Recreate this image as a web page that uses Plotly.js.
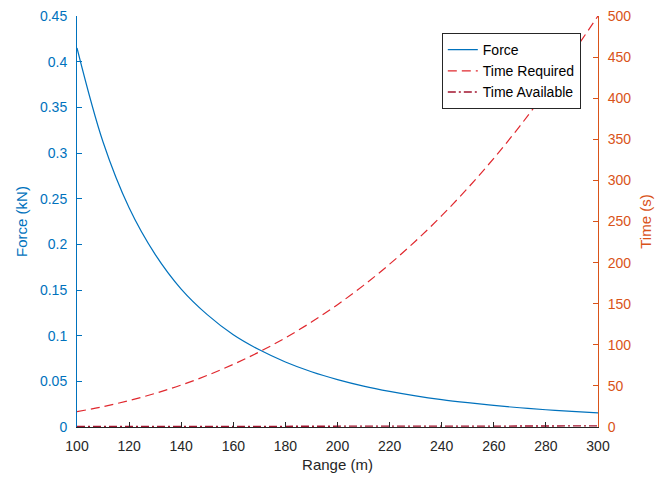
<!DOCTYPE html>
<html>
<head>
<meta charset="utf-8">
<script src="https://cdn.plot.ly/plotly-3.0.1.min.js"></script>
<style>html,body{margin:0;padding:0;background:#fff;}#chart{width:670px;height:480px;}</style>
</head>
<body>
<div id="chart"></div>
<script>
var range = [100,110,120,130,140,150,160,170,180,190,200,210,220,230,240,250,260,270,280,290,300];
var force = [0.415,0.312,0.240,0.189,0.151,0.123,0.101,0.0845,0.0712,0.0605,0.0519,0.0448,0.0390,0.0341,0.0300,0.0266,0.0236,0.0211,0.0189,0.0170,0.0154];
var timeRequired = [18.6,24.8,32.1,40.9,51.0,62.8,76.2,91.4,108.5,127.6,148.8,172.3,198.1,226.3,257.1,290.6,326.9,366.1,408.3,453.6,500];
var timeAvailable = [0.6,0.6,0.7,0.7,0.7,0.8,0.8,0.8,0.9,0.9,0.9,1.0,1.0,1.0,1.1,1.1,1.1,1.2,1.2,1.2,1.3];
var xTicks = [100,120,140,160,180,200,220,240,260,280,300];
var yLeftTicks = [0,0.05,0.1,0.15,0.2,0.25,0.3,0.35,0.4,0.45];
var yLeftLabels = ['0','0.05','0.1','0.15','0.2','0.25','0.3','0.35','0.4','0.45'];
var yRightTicks = [0,50,100,150,200,250,300,350,400,450,500];

var blue = '#0072BD', orange = '#D95319';
var font = 'Liberation Sans, Arial, Helvetica, sans-serif';

var traces = [
  {x: range, y: force, name: 'Force', type: 'scatter', mode: 'lines', line: {color: blue, width: 1.2, shape: 'spline'}, yaxis: 'y'},
  {x: range, y: timeRequired, name: 'Time Required', type: 'scatter', mode: 'lines', line: {color: '#e0282e', width: 1.2, dash: '9px,5px', shape: 'spline'}, yaxis: 'y2'},
  {x: range, y: timeAvailable, name: 'Time Available', type: 'scatter', mode: 'lines', line: {color: '#a2142f', width: 1.3, dash: '8px,3px,2px,3px'}, yaxis: 'y2'}
];

var layout = {
  width: 670, height: 480,
  margin: {l: 77, r: 72, t: 16, b: 53},
  paper_bgcolor: '#fff', plot_bgcolor: '#fff',
  font: {family: font, size: 13, color: '#262626'},
  showlegend: true,
  legend: {x: 0.967, y: 0.9586, xanchor: 'right', yanchor: 'top', bgcolor: '#fff', bordercolor: '#262626', borderwidth: 1, font: {size: 14, color: '#000'}, tracegroupgap: 0, itemwidth: 30},
  xaxis: {range: [100,300], tickvals: xTicks, ticktext: xTicks.map(String), ticks: 'inside', ticklen: 5, tickcolor: '#262626', showline: true, linecolor: '#262626', linewidth: 1, showgrid: false, zeroline: false, ticklabelstandoff: 6, tickfont: {size: 14, color: '#262626'}, title: {text: 'Range (m)', font: {size: 15, color: '#262626'}, standoff: 6}},
  yaxis: {range: [0,0.45], tickvals: yLeftTicks, ticktext: yLeftLabels, ticks: 'inside', ticklen: 5, tickcolor: blue, showline: true, linecolor: blue, linewidth: 1, showgrid: false, zeroline: false, ticklabelstandoff: 6, tickfont: {size: 14, color: blue}, title: {text: 'Force (kN)', font: {size: 15, color: blue}, standoff: 8}},
  yaxis2: {range: [0,500], overlaying: 'y', side: 'right', tickvals: yRightTicks, ticktext: yRightTicks.map(String), ticks: 'inside', ticklen: 5, tickcolor: orange, showline: true, linecolor: orange, linewidth: 1, showgrid: false, zeroline: false, ticklabelstandoff: 6, tickfont: {size: 14, color: orange}, title: {text: 'Time (s)', font: {size: 15, color: orange}, standoff: 10}}
};

Plotly.newPlot('chart', traces, layout, {displayModeBar: false, staticPlot: true});
</script>
</body>
</html>
